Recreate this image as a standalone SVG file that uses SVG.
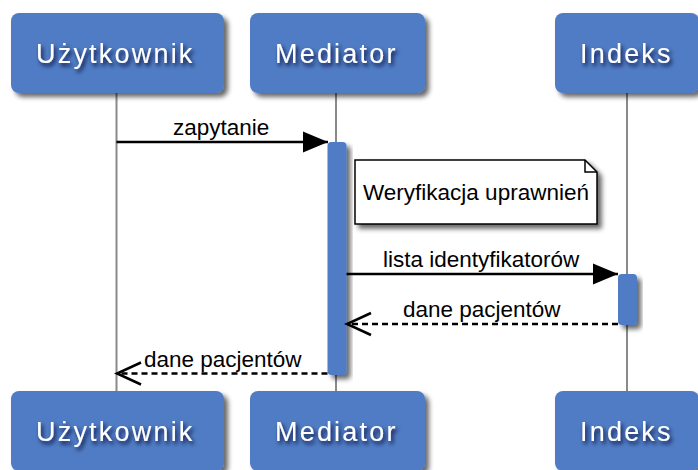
<svg xmlns="http://www.w3.org/2000/svg" width="698" height="470" viewBox="0 0 698 470">
  <defs>
    <filter id="boxShadow" x="-20%" y="-20%" width="150%" height="150%">
      <feGaussianBlur in="SourceAlpha" stdDeviation="2.5"/>
      <feOffset dx="4" dy="4" result="off"/>
      <feComponentTransfer><feFuncA type="linear" slope="0.6"/></feComponentTransfer>
      <feMerge><feMergeNode/><feMergeNode in="SourceGraphic"/></feMerge>
    </filter>
    <filter id="textShadow" x="-20%" y="-40%" width="140%" height="180%">
      <feDropShadow dx="2" dy="3" stdDeviation="2" flood-color="#0a1030" flood-opacity="0.9"/>
    </filter>
    <marker id="solidHead" markerUnits="userSpaceOnUse" viewBox="-26 -12 28 24" markerWidth="28" markerHeight="24" refX="0" refY="0" orient="auto" overflow="visible">
      <path d="M-25,-10.5 L0,0 L-25,10.5 Z" fill="#000" stroke="none"/>
    </marker>
    <marker id="openHead" markerUnits="userSpaceOnUse" viewBox="-26 -13 28 26" markerWidth="28" markerHeight="26" refX="0" refY="0" orient="auto" overflow="visible">
      <path d="M-24,-11 L0,0 L-24,11" fill="none" stroke="#000" stroke-width="2.5" stroke-dasharray="none"/>
    </marker>
  </defs>
  <style>
    .head rect { fill: #4f7bc4; }
    .head text { font-family: "Liberation Sans", Arial, sans-serif; font-size: 27px; letter-spacing: 2.2px; fill: #fff; }
    .life { stroke: #8a8a8a; stroke-width: 2; }
    .act { fill: #4f7bc4; }
    .msg { stroke: #000; stroke-width: 2.5; fill: none; }
    .ret { stroke-dasharray: 6 4; }
    .lbl { font-family: "Liberation Sans", Arial, sans-serif; font-size: 22.5px; fill: #000; }
    .note { fill: #fff; stroke: #000; stroke-width: 1.5; }
  </style>

  <rect width="698" height="470" fill="#fff"/>

  <!-- lifelines -->
  <g id="lifelines">
    <line class="life" x1="116.5" y1="93" x2="116.5" y2="391"/>
    <line class="life" x1="336" y1="93" x2="336" y2="391"/>
    <line class="life" x1="627" y1="93" x2="627" y2="391"/>
  </g>

  <!-- participant heads, top -->
  <g id="uzytkownik-top" class="head">
    <rect x="11" y="13" width="213" height="80" rx="8" filter="url(#boxShadow)"/>
    <text x="36" y="63" filter="url(#textShadow)">Użytkownik</text>
  </g>
  <g id="mediator-top" class="head">
    <rect x="250" y="13" width="175" height="80" rx="8" filter="url(#boxShadow)"/>
    <text x="275" y="63" filter="url(#textShadow)">Mediator</text>
  </g>
  <g id="indeks-top" class="head">
    <rect x="555" y="13" width="144" height="80" rx="8" filter="url(#boxShadow)"/>
    <text x="580" y="63" filter="url(#textShadow)">Indeks</text>
  </g>

  <!-- participant heads, bottom -->
  <g id="uzytkownik-bottom" class="head">
    <rect x="11" y="391" width="213" height="80" rx="8" filter="url(#boxShadow)"/>
    <text x="36" y="441" filter="url(#textShadow)">Użytkownik</text>
  </g>
  <g id="mediator-bottom" class="head">
    <rect x="250" y="391" width="175" height="80" rx="8" filter="url(#boxShadow)"/>
    <text x="275" y="441" filter="url(#textShadow)">Mediator</text>
  </g>
  <g id="indeks-bottom" class="head">
    <rect x="555" y="391" width="144" height="80" rx="8" filter="url(#boxShadow)"/>
    <text x="580" y="441" filter="url(#textShadow)">Indeks</text>
  </g>

  <!-- activation bars -->
  <g id="mediator-activation">
    <rect class="act" x="327.5" y="142" width="19" height="233" rx="4" filter="url(#boxShadow)"/>
  </g>
  <g id="indeks-activation">
    <rect class="act" x="618" y="274" width="19" height="51" rx="4" filter="url(#boxShadow)"/>
  </g>

  <!-- note -->
  <g id="note-weryfikacja">
    <path class="note" d="M355,160 L585,160 L597,172 L597,224 L355,224 Z" filter="url(#boxShadow)"/>
    <path d="M585,160 L585,172 L597,172" fill="none" stroke="#000" stroke-width="1.5"/>
    <text class="lbl" x="363" y="200">Weryfikacja uprawnień</text>
  </g>

  <!-- messages -->
  <g id="connectors">
    <line class="msg" x1="116.5" y1="142" x2="328" y2="142" marker-end="url(#solidHead)"/>
    <text class="lbl" x="173" y="135">zapytanie</text>

    <line class="msg" x1="346.5" y1="274" x2="618" y2="274" marker-end="url(#solidHead)"/>
    <text class="lbl" x="383" y="267">lista identyfikatorów</text>

    <line class="msg ret" x1="618" y1="324" x2="347" y2="324" marker-end="url(#openHead)"/>
    <text class="lbl" x="403" y="317">dane pacjentów</text>

    <line class="msg ret" x1="327.5" y1="373.5" x2="117" y2="373.5" marker-end="url(#openHead)"/>
    <text class="lbl" x="144" y="367">dane pacjentów</text>
  </g>
</svg>
